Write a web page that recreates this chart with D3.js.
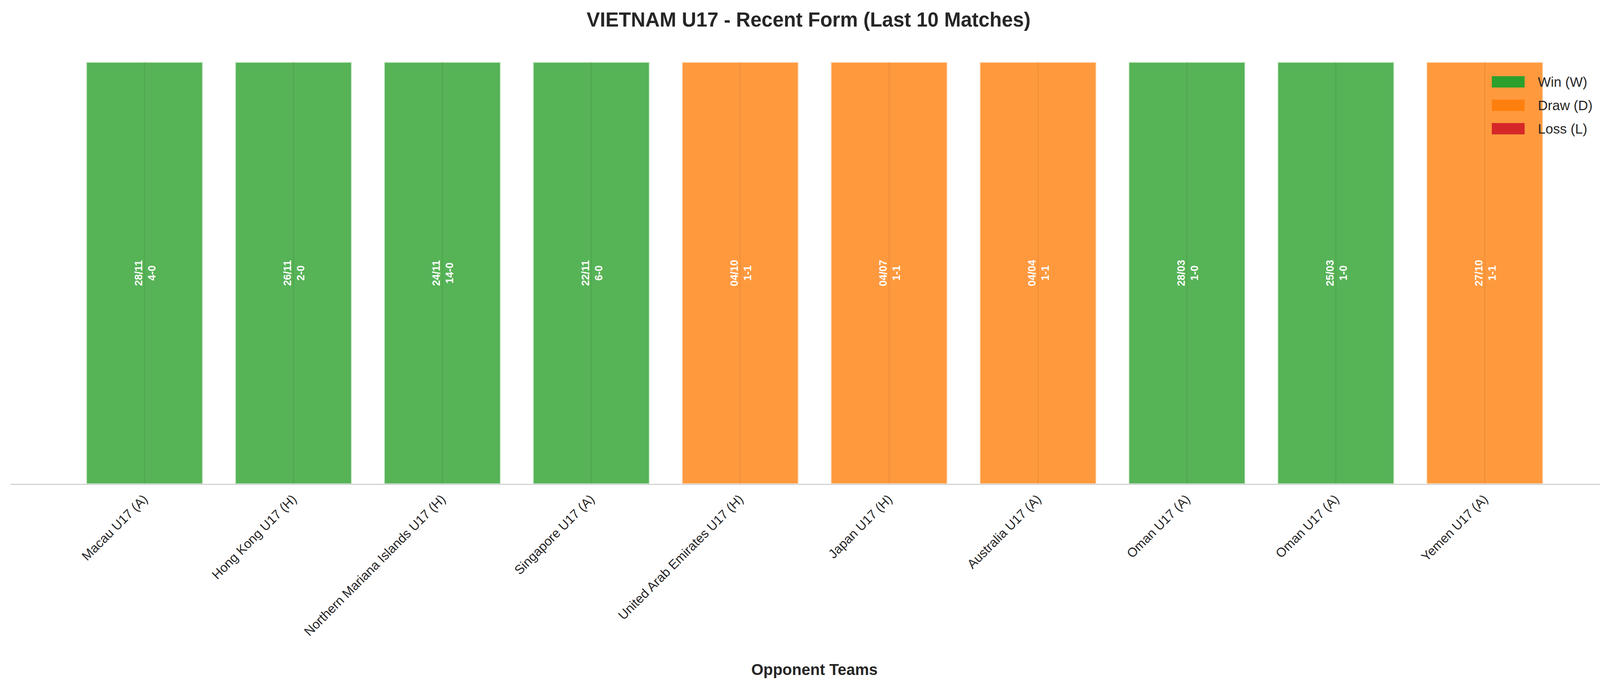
<!DOCTYPE html>
<html><head><meta charset="utf-8">
<script src="https://cdn.jsdelivr.net/npm/d3@7"></script>
<style>body{margin:0;background:#fff}text{font-family:"Liberation Sans",Arial,sans-serif}</style>
</head><body><div id="chart"></div>
<script>
const opponents = ["Macau U17 (A)", "Hong Kong U17 (H)", "Northern Mariana Islands U17 (H)", "Singapore U17 (A)",
    "United Arab Emirates U17 (H)", "Japan U17 (H)", "Australia U17 (A)", "Oman U17 (A)", "Oman U17 (A)", "Yemen U17 (A)"];
const results = ["W", "W", "W", "W", "D", "D", "D", "W", "W", "D"];
const dates = ["28/11", "26/11", "24/11", "22/11", "04/10", "04/07", "04/04", "28/03", "25/03", "27/10"];
const scores = ["4-0", "2-0", "14-0", "6-0", "1-1", "1-1", "1-1", "1-0", "1-0", "1-1"];
const values = [1, 1, 1, 1, 1, 1, 1, 1, 1, 1];
const legendLabels = ["Win (W)", "Draw (D)", "Loss (L)"];
const legendKeys = ["W", "D", "L"];

const colors = { W: "#2ca02c", D: "#ff7f0e", L: "#d62728" };
const W = 4170, H = 1769;

const svg = d3.select("#chart").append("svg").attr("width", W).attr("height", H);

const x = d3.scalePoint().domain(d3.range(opponents.length)).range([370, 3801]);
const y = d3.scaleLinear().domain([0, 1]).range([1240, 158]);
const bw = 300;

// bars
const g = svg.append("g");
g.selectAll("rect.bar").data(values).enter().append("rect")
    .attr("x", (d, i) => x(i) - bw / 2)
    .attr("y", d => y(d))
    .attr("width", bw)
    .attr("height", d => y(0) - y(d))
    .attr("fill", (d, i) => colors[results[i]])
    .attr("fill-opacity", 0.8)
    .attr("stroke", "#fff")
    .attr("stroke-width", 5)
    .attr("stroke-opacity", 0.8);

// faint vertical grid line through each bar
g.selectAll("line.grid").data(values).enter().append("line")
    .attr("x1", (d, i) => x(i)).attr("x2", (d, i) => x(i))
    .attr("y1", d => y(d)).attr("y2", y(0))
    .attr("stroke", "#000").attr("stroke-opacity", 0.06).attr("stroke-width", 3);

// labels in bars
const lab = g.selectAll("g.lab").data(values).enter().append("g")
    .attr("transform", (d, i) => `translate(${x(i)},${y(d / 2)}) rotate(-90)`);
lab.append("text").attr("text-anchor", "middle").attr("y", -6)
    .attr("fill", "#fff").attr("font-weight", "bold").attr("font-size", 27)
    .text((d, i) => dates[i]);
lab.append("text").attr("text-anchor", "middle").attr("y", 28)
    .attr("fill", "#fff").attr("font-weight", "bold").attr("font-size", 27)
    .text((d, i) => scores[i]);

// baseline
svg.append("line").attr("x1", 27).attr("x2", W).attr("y1", y(0)).attr("y2", y(0))
    .attr("stroke", "#ccc").attr("stroke-width", 2.5);

// tick labels
svg.selectAll("text.tick").data(opponents).enter().append("text")
    .attr("transform", (d, i) => `translate(${x(i) + 10},${y(0) + 40}) rotate(-45)`)
    .attr("text-anchor", "end").attr("font-size", 33).attr("fill", "#262626")
    .text(d => d);

// title & axis label
svg.append("text").attr("x", W / 2 - 15).attr("y", 68).attr("text-anchor", "middle")
    .attr("font-size", 51).attr("font-weight", "bold").attr("fill", "#262626")
    .text("VIETNAM U17 - Recent Form (Last 10 Matches)");
svg.append("text").attr("x", 2085).attr("y", 1728).attr("text-anchor", "middle")
    .attr("font-size", 40).attr("font-weight", "bold").attr("fill", "#262626")
    .text("Opponent Teams");

// legend
const lg = svg.append("g").attr("transform", "translate(3819,195)");
const li = lg.selectAll("g").data(legendKeys).enter().append("g")
    .attr("transform", (d, i) => `translate(0,${i * 60})`);
li.append("rect").attr("width", 84).attr("height", 29).attr("fill", d => colors[d]);
li.append("text").attr("x", 118).attr("y", 27).attr("font-size", 35).attr("fill", "#262626")
    .text((d, i) => legendLabels[i]);
</script></body></html>
